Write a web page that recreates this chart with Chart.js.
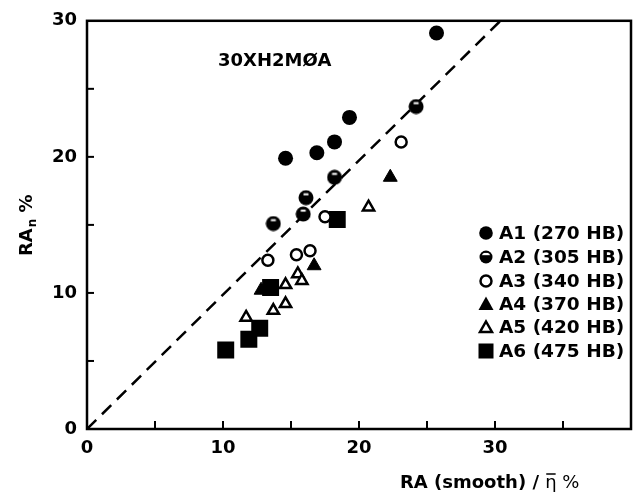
<!DOCTYPE html>
<html>
<head>
<meta charset="utf-8">
<script src="https://cdn.jsdelivr.net/npm/chart.js@4.4.0/dist/chart.umd.min.js"></script>
<style>
  html, body { margin: 0; padding: 0; background: #fff; }
</style>
</head>
<body>
<canvas id="steelChart" width="643" height="502"></canvas>
<script>
// Data
const seriesLabels = ['A1 (270 HB)', 'A2 (305 HB)', 'A3 (340 HB)', 'A4 (370 HB)', 'A5 (420 HB)', 'A6 (475 HB)'];

const a1X = [25.7, 19.3, 18.2, 16.9, 14.6];
const a1Y = [29.1, 22.9, 21.1, 20.3, 19.9];
const a2X = [24.2, 18.2, 16.1, 15.9, 13.7];
const a2Y = [23.7, 18.5, 17.0, 15.8, 15.1];
const a3X = [23.1, 17.5, 16.4, 15.4, 13.3];
const a3Y = [21.1, 15.6, 13.1, 12.8, 12.4];
const a4X = [22.3, 16.7, 12.8];
const a4Y = [18.5, 12.0, 10.2];
const a5X = [20.7, 15.5, 15.8, 14.6, 14.6, 13.7, 11.7];
const a5Y = [16.3, 11.4, 10.9, 10.6, 9.2, 8.7, 8.2];
const a6X = [18.4, 13.5, 12.7, 11.9, 10.2];
const a6Y = [15.4, 10.4, 7.4, 6.6, 5.8];

// dashed reference line (end points)
const lineX = [0, 30.4];
const lineY = [0, 30];

const xTickLabels = [0, 10, 20, 30];
const yTickLabels = [0, 10, 20, 30];

const BOLD = 'bold 18px "DejaVu Sans"';

function pairs(xs, ys) {
    return xs.map((x, i) => ({ x: x, y: ys[i] }));
}

// half filled circle marker (A2) - small white mark near the top
function makeHalfCircle(d, band) {
    const c = document.createElement('canvas');
    c.width = d; c.height = d;
    const g = c.getContext('2d');
    const r = d / 2;
    g.fillStyle = '#000';
    g.beginPath(); g.arc(r, r, r - 0.5, 0, Math.PI * 2); g.fill();
    g.save();
    g.beginPath(); g.arc(r, r, r - 2.5, 0, Math.PI * 2); g.clip();
    g.fillStyle = '#fff';
    if (band) {
        g.fillRect(0, r - r * 0.6, d, r * 0.34);
    } else {
        g.fillRect(r - 2.5, r - r * 0.55, 5, 2);
    }
    g.restore();
    return c;
}
const halfCircle = makeHalfCircle(16, false);
const halfCircleSmall = makeHalfCircle(14, true);

const markerStyles = [
    { pointStyle: 'circle', pointRadius: 7.5, backgroundColor: '#000', borderColor: '#000', borderWidth: 0 },
    { pointStyle: halfCircle, pointRadius: 8, backgroundColor: '#000', borderColor: '#000', borderWidth: 0 },
    { pointStyle: 'circle', pointRadius: 5.5, backgroundColor: '#fff', borderColor: '#000', borderWidth: 2.5 },
    { pointStyle: 'triangle', pointRadius: 8, backgroundColor: '#000', borderColor: '#000', borderWidth: 1 },
    { pointStyle: 'triangle', pointRadius: 6.5, backgroundColor: '#fff', borderColor: '#000', borderWidth: 2.5 },
    { pointStyle: 'rect', pointRadius: 12, backgroundColor: '#000', borderColor: '#000', borderWidth: 0 }
];

const seriesData = [pairs(a1X, a1Y), pairs(a2X, a2Y), pairs(a3X, a3Y), pairs(a4X, a4Y), pairs(a5X, a5Y), pairs(a6X, a6Y)];

const datasets = seriesData.map((d, i) => Object.assign({
    type: 'scatter',
    label: seriesLabels[i],
    data: d,
    order: 1
}, markerStyles[i]));

datasets.push({
    type: 'line',
    label: 'ref',
    data: pairs(lineX, lineY),
    borderColor: '#000',
    borderWidth: 2.5,
    borderDash: [13, 8],
    pointRadius: 0,
    fill: false,
    order: 10
});

// small legend marker drawing (legend sits inside the plot)
function drawLegendMarker(ctx, i, x, y) {
    ctx.save();
    ctx.fillStyle = '#000';
    ctx.strokeStyle = '#000';
    if (i === 0) {
        ctx.beginPath(); ctx.arc(x, y, 6.8, 0, Math.PI * 2); ctx.fill();
    } else if (i === 1) {
        ctx.drawImage(halfCircleSmall, x - 7, y - 7);
    } else if (i === 2) {
        ctx.lineWidth = 2.5;
        ctx.beginPath(); ctx.arc(x, y, 5.5, 0, Math.PI * 2); ctx.stroke();
    } else if (i === 3) {
        ctx.beginPath();
        ctx.moveTo(x, y - 7.5);
        ctx.lineTo(x + 7.5, y + 6);
        ctx.lineTo(x - 7.5, y + 6);
        ctx.closePath();
        ctx.fill();
    } else if (i === 4) {
        ctx.lineWidth = 2.5;
        ctx.beginPath();
        ctx.moveTo(x, y - 5.5);
        ctx.lineTo(x + 6, y + 5);
        ctx.lineTo(x - 6, y + 5);
        ctx.closePath();
        ctx.stroke();
    } else {
        ctx.fillRect(x - 7.5, y - 7.5, 15, 15);
    }
    ctx.restore();
}

const decorPlugin = {
    id: 'decor',
    afterDraw(chart) {
        const ctx = chart.ctx;
        const area = chart.chartArea;
        const xs = chart.scales.x, ys = chart.scales.y;
        ctx.save();

        // frame
        ctx.strokeStyle = '#000';
        ctx.lineWidth = 2.5;
        ctx.strokeRect(area.left, area.top, area.right - area.left, area.bottom - area.top);

        // inward tick marks
        ctx.lineWidth = 2;
        xs.ticks.forEach(t => {
            if (t.value <= xs.min || t.value >= xs.max) return;
            const px = xs.getPixelForValue(t.value);
            ctx.beginPath(); ctx.moveTo(px, area.bottom); ctx.lineTo(px, area.bottom - 8); ctx.stroke();
        });
        ys.ticks.forEach(t => {
            if (t.value <= ys.min || t.value >= ys.max) return;
            const py = ys.getPixelForValue(t.value);
            ctx.beginPath(); ctx.moveTo(area.left, py); ctx.lineTo(area.left + 7, py); ctx.stroke();
        });

        ctx.fillStyle = '#000';
        ctx.textBaseline = 'alphabetic';
        ctx.textAlign = 'left';

        // steel grade label
        ctx.font = BOLD;
        ctx.fillText('30XH2MØA', 218, 66);

        // x axis title
        let x0 = 400;
        const base = 488;
        ctx.font = BOLD;
        const part1 = 'RA (smooth) / ';
        ctx.fillText(part1, x0, base);
        x0 += ctx.measureText(part1).width;
        ctx.font = '18px "DejaVu Sans"';
        const etaW = ctx.measureText('η').width;
        ctx.fillText('η', x0, base);
        ctx.lineWidth = 1.5;
        ctx.beginPath(); ctx.moveTo(x0 + 1, base - 14); ctx.lineTo(x0 + etaW - 1, base - 14); ctx.stroke();
        x0 += etaW;
        ctx.fillText(' %', x0, base);

        // y axis title (rotated)
        ctx.save();
        ctx.translate(32, 256);
        ctx.rotate(-Math.PI / 2);
        let yx = 0;
        ctx.font = BOLD;
        ctx.fillText('RA', yx, 0);
        yx += ctx.measureText('RA').width + 1;
        ctx.font = 'bold 12px "DejaVu Sans"';
        ctx.fillText('n', yx, 4);
        yx += ctx.measureText('n').width;
        ctx.font = BOLD;
        ctx.fillText(' %', yx, 0);
        ctx.restore();

        // legend
        ctx.font = 'bold 18.5px "DejaVu Sans"';
        const legendBase = [239, 263, 287, 310, 333, 357];
        seriesLabels.forEach((lab, i) => {
            drawLegendMarker(ctx, i, 486, legendBase[i] - 6);
            ctx.fillText(lab, 499, legendBase[i]);
        });

        ctx.restore();
    }
};

const tickFont = { family: 'DejaVu Sans', weight: 'bold', size: 18 };

new Chart(document.getElementById('steelChart'), {
    data: { datasets: datasets },
    options: {
        responsive: false,
        animation: false,
        devicePixelRatio: 1,
        layout: { padding: { top: 14, right: 6, left: 0, bottom: 0 } },
        plugins: {
            legend: { display: false },
            tooltip: { enabled: false }
        },
        scales: {
            x: {
                type: 'linear',
                min: 0,
                max: 40,
                afterFit: s => { s.height = 73; },
                grid: { display: false, drawTicks: false },
                border: { display: false },
                ticks: {
                    stepSize: 5,
                    padding: 9,
                    autoSkip: false,
                    maxRotation: 0,
                    color: '#000',
                    font: tickFont,
                    callback: v => xTickLabels.includes(v) ? String(v) : ''
                }
            },
            y: {
                type: 'linear',
                min: 0,
                max: 30,
                afterFit: s => { s.width = 87; },
                grid: { display: false, drawTicks: false },
                border: { display: false },
                ticks: {
                    stepSize: 5,
                    padding: 10,
                    autoSkip: false,
                    color: '#000',
                    font: tickFont,
                    callback: v => yTickLabels.includes(v) ? String(v) : ''
                }
            }
        }
    },
    plugins: [decorPlugin]
});
</script>
</body>
</html>
